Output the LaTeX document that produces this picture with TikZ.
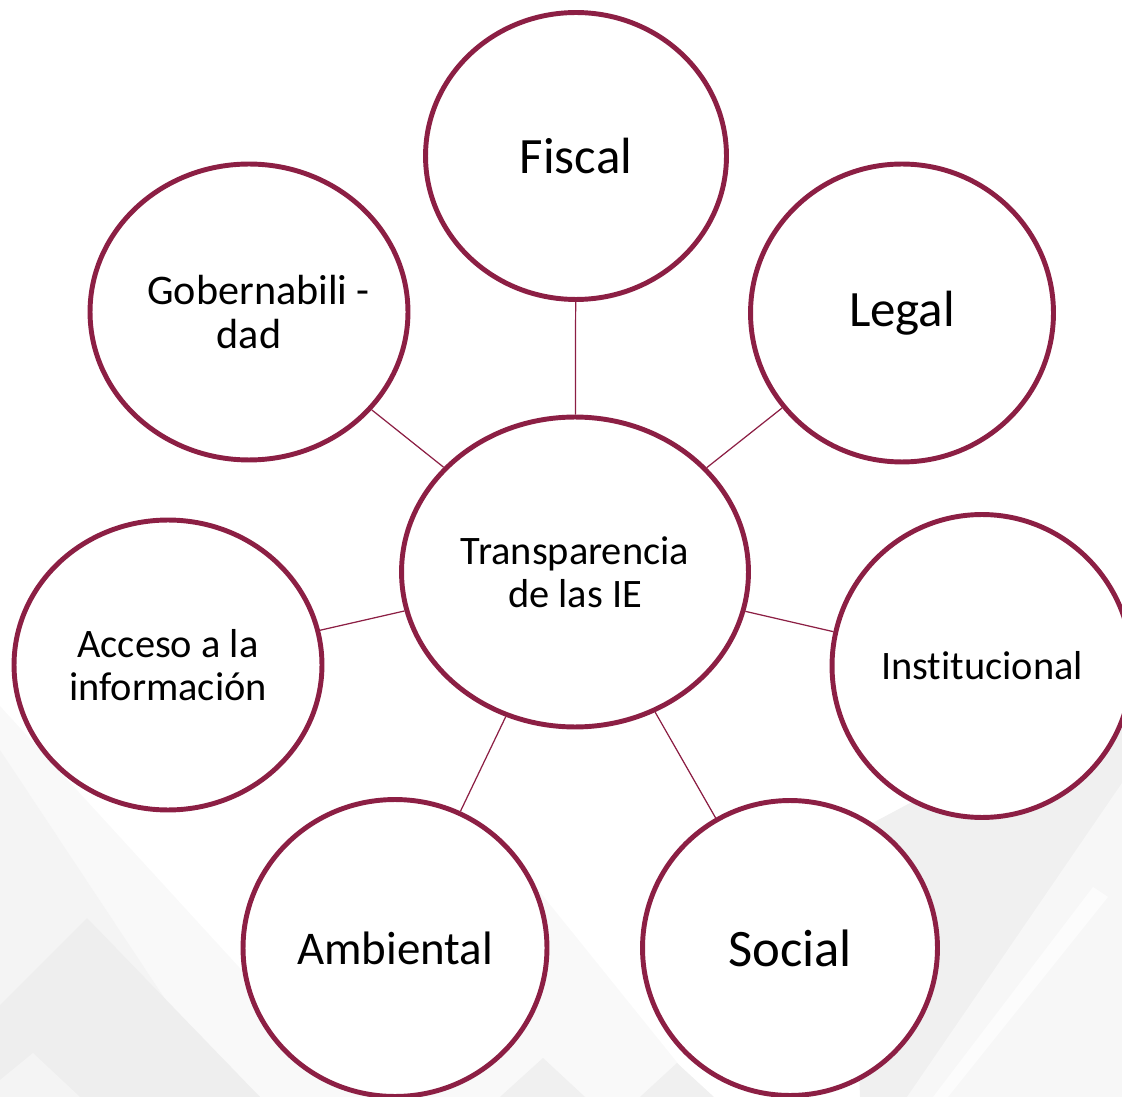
\documentclass[tikz,border=0pt]{standalone}
\usepackage{fontspec}
\setmainfont{Carlito}
\usetikzlibrary{shapes.geometric}

\definecolor{guinda}{HTML}{8C1F44}

\tikzset{
    circulo/.style={ellipse, draw=guinda, line width=2.8pt, fill=white,
                    inner sep=0pt, align=center},
    enlace/.style={draw=guinda, line width=0.7pt}
}

\begin{document}
\begin{tikzpicture}[x=0.02cm, y=-0.02cm]
            \useasboundingbox (0,0) rectangle (1122,1097);
            \clip (0,0) rectangle (1122,1097);

            % fondo gris
            \fill [gray!5] (0,706) -- (358,1097) -- (0,1097) -- cycle;
            \fill [gray!9] (0,750) -- (230,1097) -- (0,1097) -- cycle;
            \fill [gray!13] (87,918) -- (260,1097) -- (0,1097) -- (0,1005) -- cycle;
            \fill [gray!9] (33,1053) -- (80,1097) -- (0,1097) -- (0,1080) -- cycle;
            \fill [gray!5] (490,830) -- (705,1097) -- (330,1097) -- cycle;
            \fill [gray!12] (543,1058) -- (585,1097) -- (500,1097) -- cycle;
            \fill [gray!12] (677,1063) -- (714,1097) -- (640,1097) -- cycle;
            \fill [gray!12] (850,835) -- (1122,690) -- (1122,1097) -- (860,1097) -- cycle;
            \fill [gray!6] (1122,783) -- (1122,1097) -- (907,1097) -- cycle;
            \fill [gray!2] (1093,887) -- (1108,897) -- (948,1097) -- (933,1097) -- cycle;

            \node (C) at (575,572) [circulo, minimum width=6.94cm, minimum height=6.2cm,
                font=\fontsize{23}{24.5}\selectfont] {Transparencia\\de las IE};
            \node (F) at (576,156) [circulo, minimum width=6.02cm, minimum height=5.74cm,
                font=\fontsize{29}{35}\selectfont] {Fiscal};
            \node (L) at (902,313) [circulo, minimum width=6.06cm, minimum height=5.96cm,
                font=\fontsize{29}{35}\selectfont] {Legal};
            \node (G) at (249,312) [circulo, minimum width=6.36cm, minimum height=5.92cm,
                label={[font=\fontsize{24}{25}\selectfont, align=center]center:\hspace*{11pt}Gobernabili -\\dad}] {};
            \node (A) at (168,665) [circulo, minimum width=6.16cm, minimum height=5.8cm,
                font=\fontsize{23}{24.5}\selectfont] {Acceso a la\\información};
            \node (I) at (982,666) [circulo, minimum width=6.0cm, minimum height=6.06cm,
                font=\fontsize{23}{24.5}\selectfont] {Inst\kern0pt itucional};
            \node (Am) at (395,948) [circulo, minimum width=6.08cm, minimum height=5.94cm,
                font=\fontsize{26.7}{32}\selectfont] {Ambiental};
            \node (S) at (790,948) [circulo, minimum width=5.9cm, minimum height=5.9cm,
                font=\fontsize{30}{36}\selectfont] {Social};

            \foreach \n in {F, L, G, A, I, Am, S}
                {
                    \draw [enlace] (C) -- (\n);
                }

        \end{tikzpicture}
\end{document}
